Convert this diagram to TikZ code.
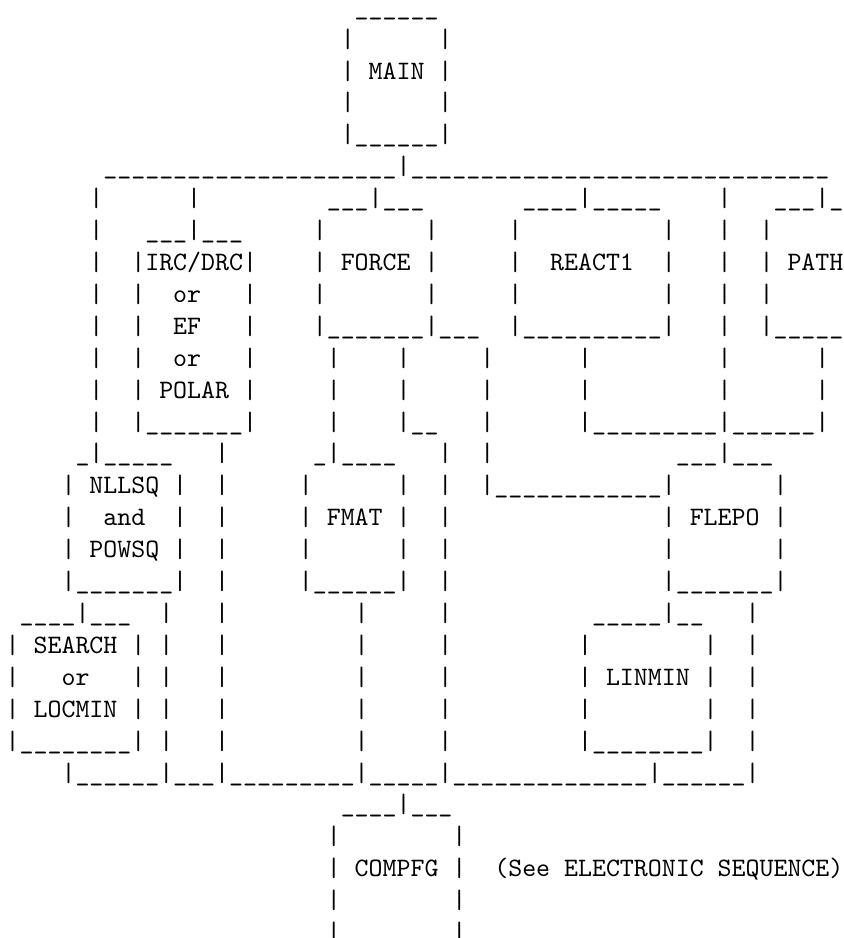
\documentclass[tikz,border=0pt]{standalone}
\ExplSyntaxOn
\cs_new:Npn \myus #1 { \prg_replicate:nn {#1} { \_ } }
\ExplSyntaxOff
\tikzset{ch/.style={anchor=base west, inner sep=0pt, outer sep=0pt,
  font=\ttfamily\fontsize{10}{12}\selectfont, text=black}}
\begin{document}
\begin{tikzpicture}[x=5.25pt,y=12pt]
\useasboundingbox (-0.4097,0.4763) rectangle (59.977,-28.919);
\fill[white] (-0.4097,0.4763) rectangle (59.977,-28.919);
\clip (-0.4097,0.4763) rectangle (59.977,-28.919);
% single vertical bars: column / first row / last row
\foreach \cc/\ra/\rb in {0/20/22, 4/15/17, 6/6/13, 9/9/12, 9/20/22, 11/19/23,
  12/15/17, 13/6/6, 15/14/23, 17/9/12, 21/15/17, 22/7/9, 23/11/13, 23/26/29,
  24/1/3, 25/19/23, 28/11/12, 28/15/17, 30/7/9, 31/1/3, 31/14/23, 32/26/29,
  34/11/14, 36/7/9, 41/11/12, 41/20/22, 47/7/9, 47/16/17, 50/20/22, 51/6/12,
  53/19/23, 54/7/9, 55/15/17, 58/11/12}
  {\foreach \rr in {\ra,...,\rb} {\node[ch] (v\cc r\rr) at (\cc,-\rr) {|};}}
% runs of characters
\node[ch] (m0) at (25,0) {\myus{6}};
\node[ch] (main) at (26,-2) {MAIN};
\node[ch] (m4) at (24,-4) {|\myus{6}|};
\node[ch] (bus1) at (7,-5) {\myus{21}|\myus{30}};
\node[ch] (t6a) at (23,-6) {\myus{3}|\myus{3}};
\node[ch] (t6b) at (37,-6) {\myus{4}|\myus{5}};
\node[ch] (t6c) at (55,-6) {\myus{3}|\_};
\node[ch] (t7a) at (10,-7) {\myus{3}|\myus{3}};
\node[ch] (irc) at (9,-8) {|IRC/DRC|};
\node[ch] (force) at (24,-8) {FORCE};
\node[ch] (react) at (39,-8) {REACT1};
\node[ch] (path) at (56,-8) {PATH};
\node[ch] (or1) at (12,-9) {or};
\node[ch] (ef) at (12,-10) {EF};
\node[ch] (b10a) at (22,-10) {|\myus{7}|\myus{3}};
\node[ch] (b10b) at (36,-10) {|\myus{10}|};
\node[ch] (b10c) at (54,-10) {|\myus{5}};
\node[ch] (or2) at (12,-11) {or};
\node[ch] (polar) at (11,-12) {POLAR};
\node[ch] (b13a) at (9,-13) {|\myus{7}|};
\node[ch] (b13b) at (28,-13) {|\myus{2}};
\node[ch] (b13c) at (41,-13) {|\myus{9}|\myus{6}|};
\node[ch] (t14a) at (5,-14) {\_|\myus{5}};
\node[ch] (t14b) at (22,-14) {\_|\myus{4}};
\node[ch] (t14c) at (48,-14) {\myus{3}|\myus{3}};
\node[ch] (nllsq) at (6,-15) {NLLSQ};
\node[ch] (b15) at (34,-15) {|\myus{12}|};
\node[ch] (and) at (7,-16) {and};
\node[ch] (fmat) at (23,-16) {FMAT};
\node[ch] (flepo) at (49,-16) {FLEPO};
\node[ch] (powsq) at (6,-17) {POWSQ};
\node[ch] (b18a) at (4,-18) {|\myus{7}|};
\node[ch] (b18b) at (21,-18) {|\myus{6}|};
\node[ch] (b18c) at (47,-18) {|\myus{7}|};
\node[ch] (t19a) at (1,-19) {\myus{4}|\myus{3}};
\node[ch] (t19b) at (42,-19) {\myus{5}|\myus{2}};
\node[ch] (search) at (2,-20) {SEARCH};
\node[ch] (or3) at (4,-21) {or};
\node[ch] (linmin) at (43,-21) {LINMIN};
\node[ch] (locmin) at (2,-22) {LOCMIN};
\node[ch] (b23a) at (0,-23) {|\myus{8}|};
\node[ch] (b23b) at (41,-23) {|\myus{8}|};
\node[ch] (bus2) at (4,-24) {|\myus{6}|\myus{3}|\myus{9}|\myus{5}|\myus{14}|\myus{6}|};
\node[ch] (t25) at (24,-25) {\myus{4}|\myus{3}};
\node[ch] (compfg) at (25,-27) {COMPFG};
\node[ch] (see1) at (35,-27) {(See};
\node[ch] (see2) at (40,-27) {ELECTRONIC};
\node[ch] (see3) at (51,-27) {SEQUENCE)};
\end{tikzpicture}
\end{document}
